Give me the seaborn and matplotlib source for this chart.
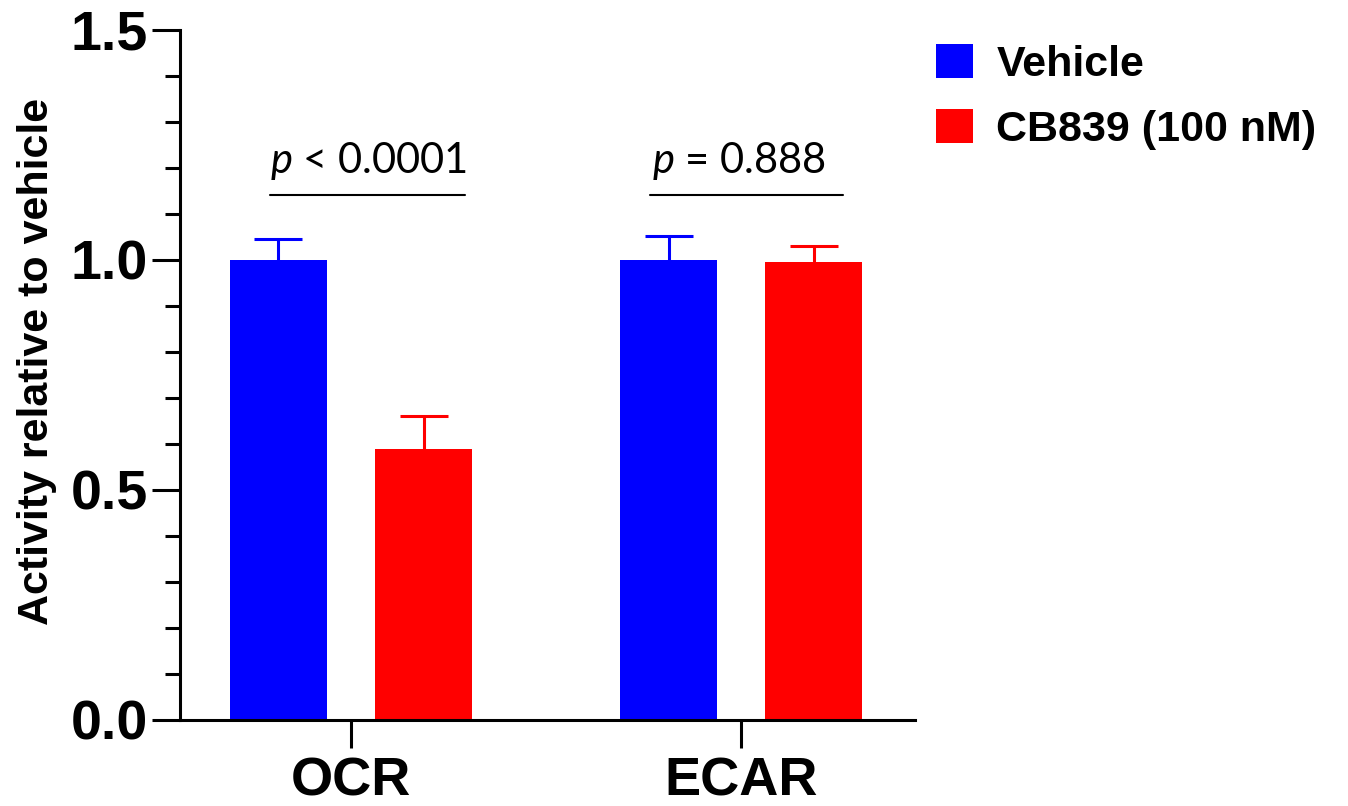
import pandas as pd
import matplotlib
matplotlib.use("Agg")
import matplotlib.pyplot as plt
import seaborn as sns
from matplotlib.ticker import MultipleLocator

# values
assays = ["OCR", "ECAR"]
treatments = ["Vehicle", "CB839 (100 nM)"]
vehicle_mean = [1.0, 1.0]
vehicle_err = [0.045, 0.052]
cb839_mean = [0.59, 0.995]
cb839_err = [0.07, 0.036]
p_labels = [r"$p$ < 0.0001", r"$p$ = 0.888"]
colors = ["#0000FF", "#FF0000"]

df = pd.DataFrame({
    "assay": assays * 2,
    "treatment": [treatments[0]] * 2 + [treatments[1]] * 2,
    "mean": vehicle_mean + cb839_mean,
    "err": vehicle_err + cb839_err,
})

sns.set_style("ticks")
plt.rcParams["font.family"] = ["Liberation Sans", "DejaVu Sans"]
plt.rcParams["mathtext.fontset"] = "custom"
plt.rcParams["mathtext.rm"] = "Lato"
plt.rcParams["mathtext.it"] = "Lato:italic"
plt.rcParams["text.color"] = "black"
plt.rcParams["axes.labelcolor"] = "black"
plt.rcParams["xtick.color"] = "black"
plt.rcParams["ytick.color"] = "black"
plt.rcParams["axes.edgecolor"] = "black"

W, H = 1348, 806
fig = plt.figure(figsize=(W / 100, H / 100), dpi=100)
ax = fig.add_axes([180 / W, 1 - 720 / H, (915 - 180) / W, (720 - 30) / H])

sns.barplot(data=df, x="assay", y="mean", hue="treatment", hue_order=treatments,
            palette=colors, width=0.744, gap=0.33, saturation=1, errorbar=None,
            ax=ax, linewidth=0)

# error bars (upper only) on each bar
for patch, (_, row) in zip(ax.patches, df.iterrows()):
    xc = patch.get_x() + patch.get_width() / 2
    col = patch.get_facecolor()
    eb = ax.errorbar(xc, row["mean"], yerr=[[0], [row["err"]]], fmt="none",
                     ecolor=col, elinewidth=2.2, capsize=17.5, capthick=2.2, zorder=3)
    eb[1][0].set_visible(False)  # hide the lower cap

# significance brackets (line span and text centre relative to category)
line_span = [(-0.208, 0.292), (-0.233, 0.262)]
text_off = [0.046, -0.005]
for i, lab in enumerate(p_labels):
    x0, x1 = i + line_span[i][0], i + line_span[i][1]
    ax.plot([x0, x1], [1.141, 1.141], color="black", lw=1.5, clip_on=False)
    ax.text(i + text_off[i], 1.19, lab, ha="center", va="baseline",
            fontsize=30, family="Lato")

ax.set_ylim(0, 1.5)
ax.set_xlim(-0.4385, 1.446)
ax.set_yticks([0, 0.5, 1.0, 1.5])
ax.set_yticklabels(["0.0", "0.5", "1.0", "1.5"])
ax.yaxis.set_minor_locator(MultipleLocator(0.1))
ax.tick_params(axis="y", which="major", length=20, width=2.2, labelsize=40, pad=3)
ax.tick_params(axis="y", which="minor", length=11, width=2.2)
ax.tick_params(axis="x", which="major", length=20, width=2.2, labelsize=39, pad=6)
for lab in ax.get_xticklabels() + ax.get_yticklabels():
    lab.set_fontweight("bold")

ax.set_xlabel("")
ax.set_ylabel("Activity relative to vehicle", fontsize=31, fontweight="bold")
ax.yaxis.set_label_coords(-0.168, 0.52)

for s in ["top", "right"]:
    ax.spines[s].set_visible(False)
for s in ["left", "bottom"]:
    ax.spines[s].set_linewidth(2.2)

leg = ax.legend(loc="upper left", bbox_to_anchor=(0.976, 1.036), frameon=False,
                handlelength=0.85, handleheight=0.85, handletextpad=0.55,
                labelspacing=0.55, prop={"weight": "bold", "size": 31})

fig.savefig("out.png", dpi=100)
